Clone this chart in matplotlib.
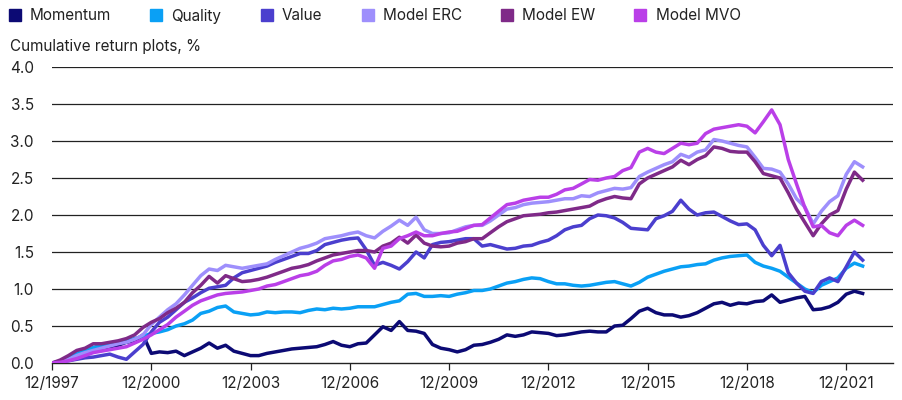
import pandas as pd
import matplotlib
matplotlib.use('Agg')
import matplotlib.pyplot as plt
from matplotlib.lines import Line2D

# quarterly observations, 12/1997 - 06/2022
dates = pd.date_range('1997-12-31', periods=99, freq='QE-DEC')

momentum = [
    0.00, 0.02, 0.05, 0.10, 0.15, 0.19, 0.20, 0.22, 0.24, 0.28, 0.30, 0.38,
    0.13, 0.15, 0.14, 0.16, 0.10, 0.15, 0.20, 0.27, 0.20, 0.24, 0.16, 0.13,
    0.10, 0.10, 0.13, 0.15, 0.17, 0.19, 0.20, 0.21, 0.22, 0.25, 0.29, 0.24,
    0.22, 0.26, 0.27, 0.38, 0.49, 0.44, 0.56, 0.44, 0.43, 0.40, 0.25, 0.20,
    0.18, 0.15, 0.18, 0.24, 0.25, 0.28, 0.32, 0.38, 0.36, 0.38, 0.42, 0.41,
    0.40, 0.37, 0.38, 0.40, 0.42, 0.43, 0.42, 0.42, 0.50, 0.51, 0.60, 0.70,
    0.74, 0.68, 0.65, 0.65, 0.62, 0.64, 0.68, 0.74, 0.80, 0.82, 0.78, 0.81,
    0.80, 0.83, 0.84, 0.92, 0.82, 0.85, 0.88, 0.90, 0.72, 0.73, 0.76, 0.82,
    0.93, 0.97, 0.94,
]
quality = [
    0.00, 0.02, 0.06, 0.13, 0.17, 0.21, 0.24, 0.25, 0.27, 0.30, 0.33, 0.36,
    0.40, 0.42, 0.45, 0.50, 0.53, 0.58, 0.67, 0.70, 0.75, 0.77, 0.69, 0.67,
    0.65, 0.66, 0.69, 0.68, 0.69, 0.69, 0.68, 0.71, 0.73, 0.72, 0.74, 0.73,
    0.74, 0.76, 0.76, 0.76, 0.79, 0.82, 0.84, 0.93, 0.94, 0.90, 0.90, 0.91,
    0.90, 0.93, 0.95, 0.98, 0.98, 1.00, 1.04, 1.08, 1.10, 1.13, 1.15, 1.14,
    1.10, 1.07, 1.07, 1.05, 1.04, 1.05, 1.07, 1.09, 1.10, 1.07, 1.04, 1.09,
    1.16, 1.20, 1.24, 1.27, 1.30, 1.31, 1.33, 1.34, 1.39, 1.42, 1.44, 1.45,
    1.46, 1.36, 1.31, 1.28, 1.24, 1.16, 1.08, 1.00, 0.95, 1.05, 1.10, 1.15,
    1.28, 1.35, 1.31,
]
value = [
    0.00, 0.01, 0.03, 0.05, 0.07, 0.08, 0.10, 0.12, 0.08, 0.05, 0.15, 0.25,
    0.42, 0.55, 0.62, 0.72, 0.82, 0.88, 0.95, 1.01, 1.03, 1.05, 1.15, 1.22,
    1.25, 1.28, 1.31, 1.36, 1.40, 1.44, 1.48, 1.48, 1.52, 1.60, 1.63, 1.66,
    1.68, 1.69, 1.53, 1.32, 1.36, 1.32, 1.27, 1.37, 1.50, 1.42, 1.60, 1.63,
    1.64, 1.66, 1.68, 1.68, 1.58, 1.60, 1.57, 1.54, 1.55, 1.58, 1.59, 1.63,
    1.66, 1.72, 1.80, 1.84, 1.86, 1.95, 2.00, 1.99, 1.96, 1.90, 1.82, 1.81,
    1.80, 1.95, 1.99, 2.05, 2.20, 2.08, 2.00, 2.03, 2.04, 1.98, 1.92, 1.87,
    1.88, 1.80, 1.59, 1.45, 1.59, 1.22, 1.08, 0.97, 0.94, 1.10, 1.15, 1.10,
    1.30, 1.50, 1.39,
]
model_erc = [
    0.00, 0.02, 0.05, 0.10, 0.14, 0.17, 0.20, 0.23, 0.26, 0.28, 0.32, 0.38,
    0.52, 0.62, 0.72, 0.80, 0.92, 1.05, 1.18, 1.27, 1.25, 1.32, 1.30, 1.28,
    1.30, 1.32, 1.34, 1.40, 1.45, 1.50, 1.55, 1.58, 1.62, 1.68, 1.70, 1.72,
    1.75, 1.77, 1.72, 1.69, 1.78, 1.85, 1.93, 1.86, 1.97, 1.80, 1.75, 1.75,
    1.76, 1.80, 1.84, 1.86, 1.86, 1.92, 2.00, 2.08, 2.10, 2.14, 2.16, 2.17,
    2.18, 2.20, 2.22, 2.22, 2.26, 2.25, 2.30, 2.33, 2.36, 2.35, 2.37, 2.52,
    2.58, 2.63, 2.68, 2.72, 2.82, 2.78, 2.85, 2.88, 3.02, 3.00, 2.97, 2.94,
    2.92, 2.78, 2.63, 2.62, 2.58, 2.42, 2.22, 2.11, 1.88, 2.05, 2.18, 2.26,
    2.55, 2.72, 2.65,
]
model_ew = [
    0.00, 0.04, 0.10, 0.17, 0.20, 0.26, 0.26, 0.28, 0.30, 0.33, 0.38, 0.48,
    0.55, 0.60, 0.68, 0.74, 0.82, 0.95, 1.05, 1.17, 1.08, 1.18, 1.14, 1.10,
    1.11, 1.13, 1.16, 1.20, 1.24, 1.28, 1.30, 1.33, 1.38, 1.42, 1.46, 1.48,
    1.50, 1.52, 1.52, 1.50, 1.58, 1.62, 1.70, 1.62, 1.73, 1.62, 1.58, 1.57,
    1.58, 1.62, 1.64, 1.68, 1.68, 1.76, 1.84, 1.91, 1.95, 1.99, 2.00, 2.01,
    2.03, 2.04, 2.06, 2.08, 2.10, 2.12, 2.18, 2.22, 2.25, 2.23, 2.22, 2.42,
    2.50, 2.55, 2.60, 2.65, 2.74, 2.68, 2.75, 2.80, 2.92, 2.90, 2.86, 2.85,
    2.85, 2.72, 2.56, 2.53, 2.50, 2.30, 2.08, 1.90, 1.72, 1.88, 2.00, 2.06,
    2.35, 2.58, 2.47,
]
model_mvo = [
    0.00, 0.01, 0.03, 0.06, 0.10, 0.14, 0.16, 0.18, 0.20, 0.22, 0.27, 0.32,
    0.38, 0.45, 0.52, 0.62, 0.70, 0.78, 0.84, 0.88, 0.92, 0.94, 0.95, 0.96,
    0.98, 1.00, 1.04, 1.06, 1.10, 1.14, 1.18, 1.20, 1.24, 1.32, 1.38, 1.40,
    1.44, 1.46, 1.42, 1.28, 1.55, 1.58, 1.68, 1.72, 1.77, 1.72, 1.72, 1.75,
    1.77, 1.78, 1.82, 1.86, 1.87, 1.96, 2.05, 2.14, 2.16, 2.20, 2.22, 2.24,
    2.24, 2.28, 2.34, 2.36, 2.42, 2.48, 2.47, 2.50, 2.52, 2.60, 2.64, 2.85,
    2.90, 2.85, 2.83, 2.90, 2.97, 2.95, 2.97, 3.10, 3.16, 3.18, 3.20, 3.22,
    3.20, 3.11, 3.26, 3.42, 3.22, 2.75, 2.42, 2.10, 1.84, 1.86, 1.76, 1.72,
    1.86, 1.93, 1.86,
]

series_names = ['Momentum', 'Quality', 'Value', 'Model ERC', 'Model EW', 'Model MVO']
series_values = [momentum, quality, value, model_erc, model_ew, model_mvo]
colors = ['#0c0a74', '#0aa0f5', '#4b3fce', '#9e8ffc', '#7f2a88', '#ba3fe8']

tick_years = [1997, 2000, 2003, 2006, 2009, 2012, 2015, 2018, 2021]
y_ticks = [0.0, 0.5, 1.0, 1.5, 2.0, 2.5, 3.0, 3.5, 4.0]

plt.rcParams['font.family'] = ['Inter', 'DejaVu Sans']
plt.rcParams['font.size'] = 11

fig = plt.figure(figsize=(9.03, 4.0), dpi=100)
ax = fig.add_axes([52 / 903, 1 - 363 / 400, 841 / 903, 296 / 400])

df = pd.DataFrame(dict(zip(series_names, series_values)), index=dates)
for name, color in zip(series_names, colors):
    ax.plot(df.index, df[name], color=color, lw=2.5, solid_joinstyle='round', zorder=3)

# 坐标轴
ax.set_ylim(0, 4.0)
ax.set_yticks(y_ticks)
ax.set_yticklabels([f'{v:.1f}' for v in y_ticks])
for v in y_ticks[1:]:
    ax.axhline(v, color='#222222', lw=0.9, zorder=1)

tick_dates = [pd.Timestamp(f'{y}-12-31') for y in tick_years]
ax.set_xticks(tick_dates)
ax.set_xticklabels([f'12/{y}' for y in tick_years])
ax.set_xlim(dates[0], pd.Timestamp('2023-05-31'))

for s in ['top', 'right', 'left']:
    ax.spines[s].set_visible(False)
ax.spines['bottom'].set_color('#222222')
ax.spines['bottom'].set_linewidth(1.0)
ax.tick_params(axis='y', length=0, pad=13, labelsize=11, colors='#222222')
ax.tick_params(axis='x', length=5, width=0.9, color='#222222', pad=4, labelsize=11, colors='#222222')

fig.text(10 / 903, 1 - 46 / 400, 'Cumulative return plots, %', ha='left', va='center',
         fontsize=11, color='#222222')

# 图例
handles = [Line2D([], [], marker='s', linestyle='none', markersize=8, color=c) for c in colors]
fig.legend(handles, series_names, loc='center left', bbox_to_anchor=(1 / 903, 1 - 16 / 400),
           ncol=6, frameon=False, handletextpad=0.5, columnspacing=2.45, handlelength=1.0,
           borderaxespad=0, fontsize=11, labelcolor='#222222')

plt.savefig('out.png', dpi=100)
